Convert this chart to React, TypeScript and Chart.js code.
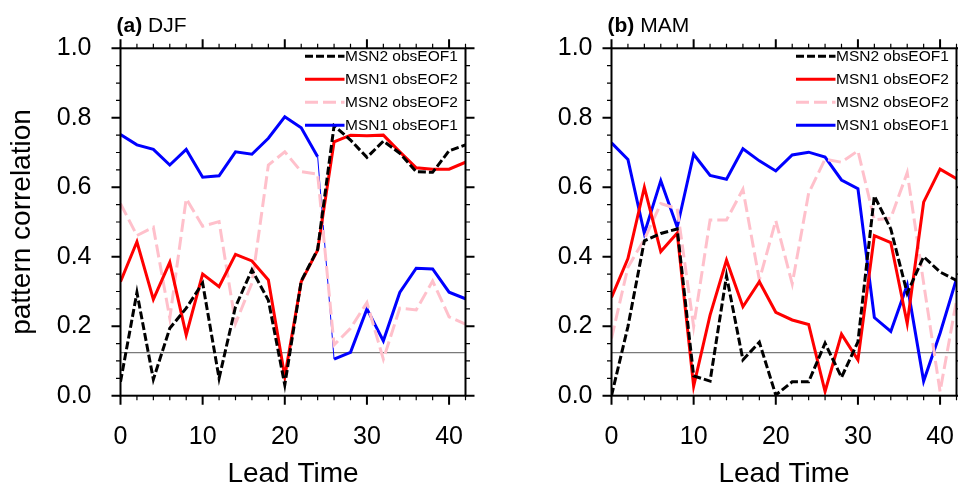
import React, { useEffect, useRef } from "react";
import { Chart, registerables } from "chart.js";

Chart.register(...registerables);

// ---------- data ----------
const leadTimes = [0, 2, 4, 6, 8, 10, 12, 14, 16, 18, 20, 22, 24, 26, 28, 30, 32, 34, 36, 38, 40, 42];
const xMajorTicks = [0, 10, 20, 30, 40];
const yMajorTicks = [0, 0.2, 0.4, 0.6, 0.8, 1.0];
const seriesLabels = ["MSN2 obsEOF1", "MSN1 obsEOF2", "MSN2 obsEOF2", "MSN1 obsEOF1"];
const significanceLevel = 0.124;

const djfMsn2Eof1 = [0.040, 0.297, 0.047, 0.194, 0.252, 0.324, 0.050, 0.256, 0.362, 0.275, 0.031, 0.330, 0.421, 0.777, 0.736, 0.686, 0.733, 0.698, 0.645, 0.643, 0.705, 0.722];
const djfMsn1Eof2 = [0.328, 0.443, 0.277, 0.384, 0.175, 0.350, 0.314, 0.407, 0.388, 0.333, 0.055, 0.328, 0.419, 0.731, 0.750, 0.748, 0.750, 0.702, 0.656, 0.652, 0.652, 0.672];
const djfMsn2Eof2 = [0.553, 0.461, 0.485, 0.223, 0.567, 0.488, 0.501, 0.208, 0.324, 0.664, 0.702, 0.645, 0.638, 0.146, 0.194, 0.268, 0.105, 0.252, 0.247, 0.330, 0.227, 0.206];
const djfMsn1Eof1 = [0.752, 0.722, 0.709, 0.664, 0.709, 0.629, 0.633, 0.702, 0.695, 0.741, 0.803, 0.771, 0.688, 0.105, 0.125, 0.250, 0.158, 0.297, 0.367, 0.365, 0.298, 0.279];

const mamMsn2Eof1 = [0.000, 0.199, 0.446, 0.467, 0.480, 0.057, 0.042, 0.345, 0.103, 0.154, 0.002, 0.040, 0.040, 0.151, 0.053, 0.155, 0.575, 0.480, 0.295, 0.400, 0.356, 0.332];
const mamMsn1Eof2 = [0.283, 0.395, 0.600, 0.415, 0.468, 0.027, 0.232, 0.390, 0.256, 0.328, 0.240, 0.218, 0.205, 0.012, 0.177, 0.103, 0.461, 0.441, 0.208, 0.557, 0.652, 0.625];
const mamMsn2Eof2 = [0.165, 0.370, 0.450, 0.553, 0.538, 0.199, 0.506, 0.506, 0.594, 0.333, 0.504, 0.322, 0.583, 0.681, 0.672, 0.705, 0.506, 0.511, 0.642, 0.324, 0.012, 0.275];
const mamMsn1Eof1 = [0.728, 0.680, 0.467, 0.619, 0.485, 0.695, 0.634, 0.623, 0.711, 0.676, 0.647, 0.693, 0.701, 0.687, 0.621, 0.596, 0.225, 0.185, 0.319, 0.042, 0.180, 0.336];

const FONT = "'Liberation Sans', Arial, Helvetica, sans-serif";
const COLORS = ["#000000", "#ff0000", "#ffc0cb", "#0000ff"];
const DASHES: number[][] = [[8, 3], [], [13, 5], []];

const toPoints = (ys: number[]) => ys.map((y, i) => ({ x: leadTimes[i], y }));

const decorPlugin = {
  id: "decor",
  afterDatasetsDraw(chart: any, _args: any, opts: any) {
    const { ctx, chartArea: ca, scales } = chart;
    const xs = scales.x;
    const ys = scales.y;
    ctx.save();
    ctx.strokeStyle = "#000";
    ctx.lineCap = "butt";
    // frame
    ctx.lineWidth = 2;
    ctx.strokeRect(ca.left, ca.top, ca.right - ca.left, ca.bottom - ca.top);
    // x ticks (top & bottom, outward)
    for (let v = 0; v <= 42; v += 2) {
      const major = v % 10 === 0;
      const len = major ? 9 : 4.5;
      const px = xs.getPixelForValue(v);
      ctx.lineWidth = major ? 2 : 1.2;
      ctx.beginPath();
      ctx.moveTo(px, ca.bottom);
      ctx.lineTo(px, ca.bottom + len);
      ctx.moveTo(px, ca.top);
      ctx.lineTo(px, ca.top - len);
      ctx.stroke();
    }
    // y ticks (left & right, outward)
    for (let i = 0; i <= 20; i++) {
      const v = i * 0.05;
      const major = i % 4 === 0;
      const len = major ? 9 : 4.5;
      const py = ys.getPixelForValue(v);
      ctx.lineWidth = major ? 2 : 1.2;
      ctx.beginPath();
      ctx.moveTo(ca.left, py);
      ctx.lineTo(ca.left - len, py);
      ctx.moveTo(ca.right, py);
      ctx.lineTo(ca.right + len, py);
      ctx.stroke();
    }
    // legend
    ctx.font = `15.5px ${FONT}`;
    ctx.textBaseline = "middle";
    ctx.textAlign = "left";
    for (let i = 0; i < 4; i++) {
      const ds = chart.data.datasets[i];
      const y = ca.top + 8 + i * 23;
      ctx.strokeStyle = ds.borderColor;
      ctx.lineWidth = 3;
      ctx.setLineDash(ds.borderDash || []);
      ctx.beginPath();
      ctx.moveTo(ca.left + 184.5, y);
      ctx.lineTo(ca.left + 224, y);
      ctx.stroke();
      ctx.setLineDash([]);
      ctx.fillStyle = "#000";
      ctx.fillText(ds.label, ca.left + 224.5, y + 0.5);
    }
    // panel title
    ctx.fillStyle = "#000";
    ctx.textBaseline = "alphabetic";
    ctx.font = `bold 21px ${FONT}`;
    const tag = opts.tag + " ";
    ctx.fillText(tag, ca.left - 4, 31.7);
    const w = ctx.measureText(tag).width;
    ctx.font = `21px ${FONT}`;
    ctx.fillText(opts.season, ca.left - 4 + w, 31.7);
    ctx.restore();
  },
};

function makeConfig(series: number[][], tag: string, season: string, showYTitle: boolean, thinBlueFrom: number | null, yLabelPad: number) {
  const datasets: any[] = series.map((s, i) => ({
    label: seriesLabels[i],
    data: toPoints(s),
    borderColor: COLORS[i],
    borderDash: DASHES[i],
    borderWidth: 3,
    pointRadius: 0,
    tension: 0,
    fill: false,
    segment:
      i === 3 && thinBlueFrom !== null
        ? { borderWidth: (c: any) => (c.p0.parsed.x === thinBlueFrom ? 1 : undefined) }
        : undefined,
  }));
  datasets.push({
    label: "sig",
    data: [
      { x: 0, y: significanceLevel },
      { x: 42, y: significanceLevel },
    ],
    borderColor: "#7a7a7a",
    borderWidth: 1.3,
    pointRadius: 0,
    fill: false,
  });
  return {
    type: "line",
    data: { datasets },
    plugins: [decorPlugin],
    options: {
      responsive: false,
      animation: false,
      events: [],
      layout: { padding: { top: 48.3, right: 21.5, bottom: 0, left: 0 } },
      plugins: {
        legend: { display: false },
        tooltip: { enabled: false },
        title: { display: false },
        decor: { tag, season },
      },
      scales: {
        x: {
          type: "linear",
          min: 0,
          max: 42,
          afterBuildTicks: (s: any) => {
            s.ticks = xMajorTicks.map((v) => ({ value: v }));
          },
          afterFit: (s: any) => {
            s.height = 92.3;
          },
          grid: { display: false, drawTicks: false },
          border: { display: false },
          ticks: {
            color: "#000",
            padding: 26,
            maxRotation: 0,
            font: { family: FONT, size: 25 },
          },
          title: {
            display: true,
            text: "Lead Time",
            color: "#000",
            font: { family: FONT, size: 28, lineHeight: 1 },
            padding: { top: 0, bottom: 0 },
          },
        },
        y: {
          type: "linear",
          min: 0,
          max: 1,
          afterBuildTicks: (s: any) => {
            s.ticks = yMajorTicks.map((v) => ({ value: v }));
          },
          afterFit: (s: any) => {
            s.width = 120.5;
          },
          grid: { display: false, drawTicks: false },
          border: { display: false },
          ticks: {
            color: "#000",
            padding: yLabelPad,
            font: { family: FONT, size: 25 },
            callback: (v: any) => Number(v).toFixed(1),
          },
          title: {
            display: showYTitle,
            text: "pattern correlation",
            color: "#000",
            font: { family: FONT, size: 28, lineHeight: 1 },
            padding: { top: 8, bottom: 0 },
          },
        },
      },
    },
  };
}

function Panel(props: { series: number[][]; tag: string; season: string; showYTitle: boolean; left: number; thinBlueFrom: number | null; yLabelPad: number }) {
  const ref = useRef<HTMLCanvasElement | null>(null);
  useEffect(() => {
    if (!ref.current) return;
    const chart = new Chart(
      ref.current,
      makeConfig(props.series, props.tag, props.season, props.showYTitle, props.thinBlueFrom, props.yLabelPad) as any
    );
    return () => chart.destroy();
  }, []);
  return (
    <canvas
      ref={ref}
      width={490}
      height={488}
      style={{ position: "absolute", left: props.left, top: 0, width: 490, height: 488 }}
    />
  );
}

export default function App() {
  return (
    <div style={{ position: "fixed", left: 0, top: 0, width: 958, height: 488, overflow: "hidden", background: "#fff" }}>
      <Panel series={[djfMsn2Eof1, djfMsn1Eof2, djfMsn2Eof2, djfMsn1Eof1]} tag="(a)" season="DJF" showYTitle={true} left={0} thinBlueFrom={24} yLabelPad={29} />
      <Panel series={[mamMsn2Eof1, mamMsn1Eof2, mamMsn2Eof2, mamMsn1Eof1]} tag="(b)" season="MAM" showYTitle={false} left={491} thinBlueFrom={null} yLabelPad={19} />
    </div>
  );
}
